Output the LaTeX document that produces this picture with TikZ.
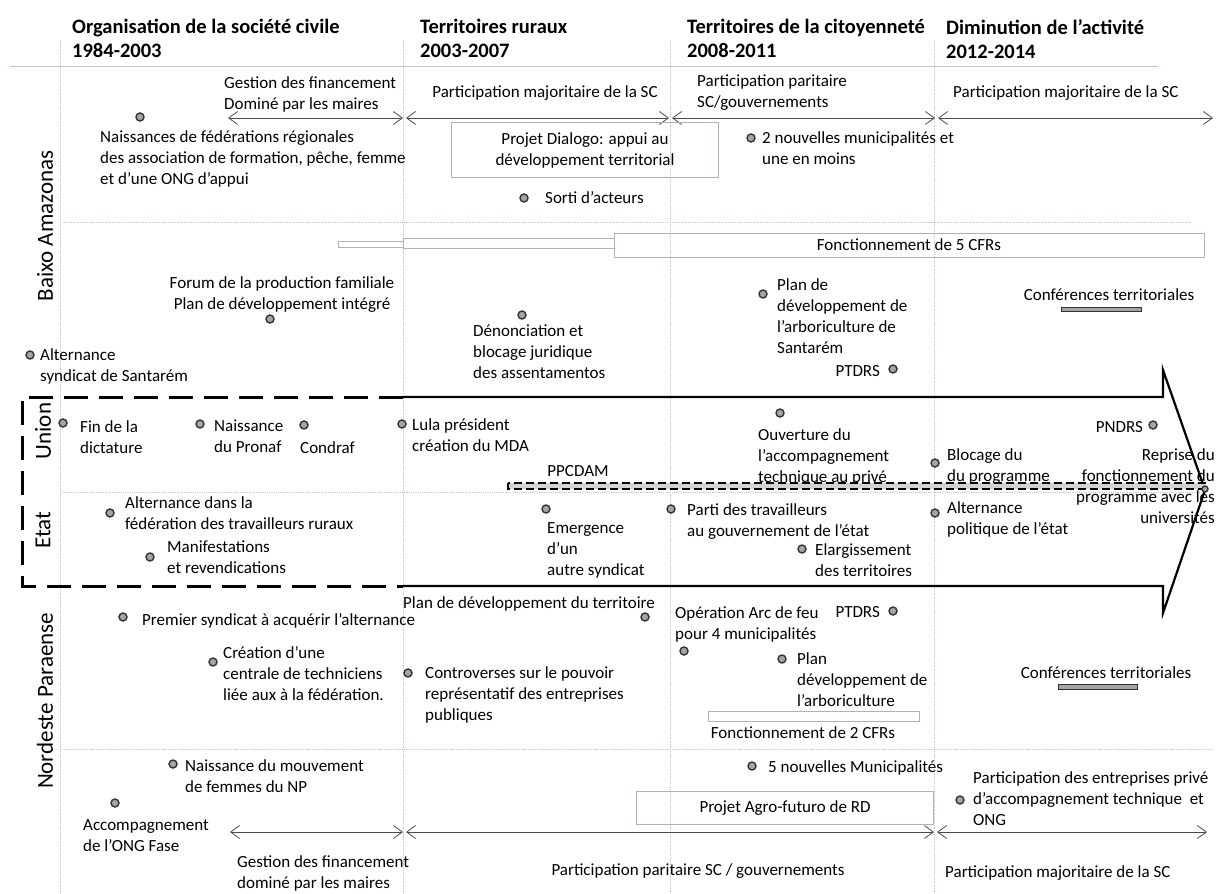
\documentclass[tikz,border=0pt]{standalone}
\usepackage{fontspec}
\setmainfont{Carlito}
\usetikzlibrary{arrows.meta}
\definecolor{gcol}{RGB}{188,204,222}
\definecolor{hcol}{RGB}{180,202,226}
\definecolor{bcol}{RGB}{168,180,198}
\definecolor{acol}{RGB}{75,75,75}
\definecolor{dfill}{RGB}{165,165,165}
\definecolor{ddraw}{RGB}{50,50,50}
\newcommand{\bodyfont}{\fontsize{17}{21}\selectfont}
\tikzset{every picture/.style={x=1pt,y=-1pt}}
\tikzset{dot/.style={circle,draw=ddraw,fill=dfill,line width=1.4pt,inner sep=0pt,minimum size=8}}
\tikzset{txt/.style={font=\bodyfont,align=left,inner sep=0pt,anchor=north west}}
\tikzset{ctxt/.style={txt,align=center,anchor=north}}
\tikzset{rtxt/.style={txt,align=right,anchor=north east}}
\tikzset{head/.style={font=\fontsize{20.5}{24}\bfseries\selectfont,align=left,inner sep=0pt,anchor=north west}}
\tikzset{lane/.style={font=\fontsize{23}{24}\selectfont,rotate=90,inner sep=0pt}}
\tikzset{span/.style={{Straight Barb[length=9pt,width=13pt]}-{Straight Barb[length=9pt,width=13pt]},acol,line width=0.8pt}}
\tikzset{grid/.style={gcol,densely dotted,line width=0.8pt}}
\tikzset{bar/.style={draw=bcol,line width=0.8pt}}
\tikzset{box/.style={draw=bcol,line width=0.9pt,font=\bodyfont,align=center,inner sep=0pt}}
\tikzset{conf/.style={draw=ddraw,fill=dfill,line width=1pt}}

\begin{document}
\begin{tikzpicture}
\useasboundingbox (0,0) rectangle (1224,894);

\draw [grid] (60,40) -- (60,894);
\draw [grid] (403,40) -- (403,894);
\draw [grid] (670,40) -- (670,894);
\draw [grid] (934,40) -- (934,894);
\draw [grid] (60,222) -- (1192,222);
\draw [grid] (60,492) -- (1200,492);
\draw [grid] (60,749) -- (1213,749);
\draw [hcol,line width=1pt] (10,66) -- (1158,66);

\node [head] (h1) at (72,19) {Organisation de la société civile\\1984-2003};
\node [head] (h2) at (420,19) {Territoires ruraux\\2003-2007};
\node [head] (h3) at (687,19) {Territoires de la citoyenneté\\2008-2011};
\node [head] (h4) at (946,19) {Diminution de l’activité\\2012-2014};

\node [lane] (l_baixo) at (45,226) {Baixo Amazonas};
\node [lane] (l_union) at (43,431) {Union};
\node [lane] (l_etat) at (43,530) {Etat};
\node [lane] (l_nord) at (45,701) {Nordeste Paraense};

\draw [line width=3pt,dash pattern=on 24pt off 11pt] (403,397) -- (22,397) -- (22,586) -- (403,586);
\draw [line width=2.2pt,miter limit=20] (403,397) -- (1163,397) -- (1163,370) -- (1205,490) -- (1163,613) -- (1163,586) -- (403,586);

\coordinate (a1l) at (228,118);
\coordinate (a1r) at (403,118);
\coordinate (a2l) at (406,118);
\coordinate (a2r) at (669,118);
\coordinate (a3l) at (672,118);
\coordinate (a3r) at (935,118);
\coordinate (a4l) at (938,118);
\coordinate (a4r) at (1213,118);
\draw [span] (a1l) -- (a1r);
\draw [span] (a2l) -- (a2r);
\draw [span] (a3l) -- (a3r);
\draw [span] (a4l) -- (a4r);

\node [txt] (t_gest) at (224,76) {Gestion des financement\\Dominé par les maires};
\node [ctxt] (t_pmaj1) at (545,85) {Participation majoritaire de la SC};
\node [txt] (t_ppar) at (697,75) {Participation paritaire\\SC/gouvernements};
\node [txt] (t_pmaj2) at (953,85) {Participation majoritaire de la SC};

\node [dot] (d_nais) at (140,117) {};
\node [txt] (t_nais) at (100,130) {Naissances de fédérations régionales\\des association de formation, pêche, femme\\et d’une ONG d’appui};
\node [box,minimum width=267,minimum height=55] (b_dial) at (585,150) {Projet Dialogo: appui au\\développement territorial};
\node [dot] (d_sorti) at (524,198) {};
\node [txt] (t_sorti) at (545,191) {Sorti d’acteurs};
\node [dot] (d_muni) at (751,138) {};
\node [txt] (t_muni) at (762,131) {2 nouvelles municipalités et\\une en moins};

\draw [bar] (338,241) rectangle (403,247);
\draw [bar] (403,238) rectangle (614,248);
\node [box,minimum width=590,minimum height=24] (b_cfr5) at (909,245) {Fonctionnement de 5 CFRs};

\node [ctxt] (t_forum) at (282,276) {Forum de la production familiale\\Plan de développement intégré};
\node [dot] (d_forum) at (270,319) {};
\node [dot] (d_altsant) at (30,355) {};
\node [txt] (t_altsant) at (40,348) {Alternance\\syndicat de Santarém};
\node [dot] (d_denon) at (522,315) {};
\node [txt] (t_denon) at (473,325) {Dénonciation et\\blocage juridique\\des assentamentos};
\node [dot] (d_arbo) at (763,294) {};
\node [txt] (t_arbo) at (777,278) {Plan de\\développement de\\l’arboriculture de\\Santarém};
\node [rtxt] (t_ptdrs1) at (880,365) {PTDRS};
\node [dot] (d_ptdrs1) at (893,369) {};
\node [ctxt] (t_conf1) at (1109,288) {Conférences territoriales};
\draw [conf] (1061,307) rectangle (1141,311);

\node [dot] (d_fin) at (63,423) {};
\node [txt] (t_fin) at (80,420) {Fin de la\\dictature};
\node [dot] (d_pronaf) at (200,424) {};
\node [txt] (t_pronaf) at (214,420) {Naissance\\du Pronaf};
\node [dot] (d_condraf) at (304,425) {};
\node [txt] (t_condraf) at (300,441) {Condraf};
\node [dot] (d_lula) at (402,424) {};
\node [txt] (t_lula) at (412,418) {Lula président\\création du MDA};
\node [dot] (d_ouv) at (780,413) {};
\node [txt] (t_ouv) at (758,428) {Ouverture du\\l’accompagnement\\technique au privé};
\node [rtxt] (t_pndrs) at (1143,421) {PNDRS};
\node [dot] (d_pndrs) at (1153,425) {};

\draw [fill=gray!35,line width=1.3pt,dash pattern=on 8pt off 4pt] (508,483) rectangle (1205,489);
\node [ctxt] (t_ppcdam) at (578,465) {PPCDAM};
\node [dot] (d_bloc) at (935,463) {};
\node [txt] (t_bloc) at (947,448) {Blocage du\\du programme};
\node [rtxt] (t_reprise) at (1215,448) {Reprise du\\fonctionnement du\\programme avec les\\universités};
\node [dot,minimum size=6] (d_reprise) at (1205,489) {};

\node [dot] (d_altfed) at (110,513) {};
\node [txt] (t_altfed) at (125,496) {Alternance dans la\\fédération des travailleurs ruraux};
\node [dot] (d_manif) at (150,557) {};
\node [txt] (t_manif) at (167,541) {Manifestations\\et revendications};
\node [dot] (d_emerg) at (546,509) {};
\node [txt] (t_emerg) at (547,522) {Emergence\\d’un\\autre syndicat};
\node [dot] (d_parti) at (671,509) {};
\node [txt] (t_parti) at (687,503) {Parti des travailleurs\\au gouvernement de l’état};
\node [dot] (d_elarg) at (802,549) {};
\node [txt] (t_elarg) at (815,543) {Elargissement\\des territoires};
\node [dot] (d_altpol) at (935,513) {};
\node [txt] (t_altpol) at (947,501) {Alternance\\politique de l’état};

\node [txt] (t_plandev) at (403,596) {Plan de développement du territoire};
\node [dot] (d_plandev) at (645,617) {};
\node [dot] (d_prem) at (123,617) {};
\node [txt] (t_prem) at (142,613) {Premier syndicat à acquérir l’alternance};
\node [dot] (d_centr) at (213,662) {};
\node [txt] (t_centr) at (223,646) {Création d’une\\centrale de techniciens\\liée aux à la fédération.};
\node [dot] (d_contr) at (408,673) {};
\node [txt] (t_contr) at (425,666) {Controverses sur le pouvoir\\représentatif des entreprises\\publiques};
\node [txt] (t_arc) at (675,606) {Opération Arc de feu\\pour 4 municipalités};
\node [dot] (d_arc) at (684,651) {};
\node [rtxt] (t_ptdrs2) at (880,606) {PTDRS};
\node [dot] (d_ptdrs2) at (893,611) {};
\node [dot] (d_arbo2) at (782,659) {};
\node [txt] (t_arbo2) at (797,652) {Plan\\développement de\\l’arboriculture};
\draw [bar] (708,711) rectangle (919,721);
\node [ctxt] (t_cfr2) at (803,726) {Fonctionnement de 2 CFRs};
\node [ctxt] (t_conf2) at (1106,666) {Conférences territoriales};
\draw [conf] (1058,684) rectangle (1137,689);

\node [dot] (d_mouv) at (173,764) {};
\node [txt] (t_mouv) at (185,759) {Naissance du mouvement\\de femmes du NP};
\node [dot] (d_fase) at (115,803) {};
\node [txt] (t_fase) at (83,819) {Accompagnement\\de l’ONG Fase};
\node [dot] (d_muni5) at (752,766) {};
\node [txt] (t_muni5) at (768,760) {5 nouvelles Municipalités};
\node [box,minimum width=297,minimum height=33] (b_agro) at (785,808) {Projet Agro-futuro de RD};
\node [dot] (d_priv) at (960,800) {};
\node [txt] (t_priv) at (973,771) {Participation des entreprises privé\\d’accompagnement technique~ et\\ONG};

\coordinate (b1l) at (230,832);
\coordinate (b1r) at (403,832);
\coordinate (b2l) at (406,832);
\coordinate (b2r) at (934,832);
\coordinate (b3l) at (937,832);
\coordinate (b3r) at (1207,832);
\draw [span] (b1l) -- (b1r);
\draw [span] (b2l) -- (b2r);
\draw [span] (b3l) -- (b3r);

\node [txt] (t_gest2) at (237,855) {Gestion des financement\\dominé par les maires};
\node [ctxt] (t_ppar2) at (698,863) {Participation paritaire SC / gouvernements};
\node [txt] (t_pmaj3) at (945,865) {Participation majoritaire de la SC};
\end{tikzpicture}
\end{document}
